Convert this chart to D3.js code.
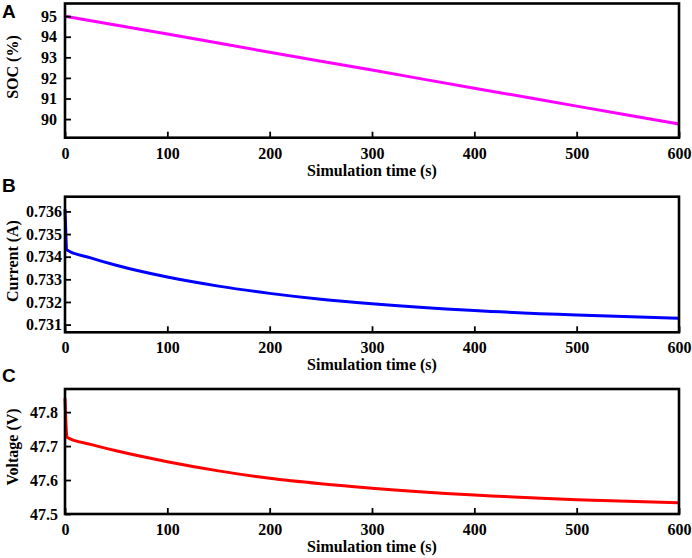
<!DOCTYPE html>
<html>
<head>
<meta charset="utf-8">
<script src="https://cdn.jsdelivr.net/npm/d3@7"></script>
<style>
  body { margin: 0; background: #fff; }
  svg { display: block; }
  .tick text { font-family: "Liberation Serif", "Times New Roman", serif; font-weight: bold; font-size: 16px; fill: #000; }
  .ttl { font-family: "Liberation Serif", "Times New Roman", serif; font-weight: bold; font-size: 16px; fill: #000; }
  .lbl { font-family: "Liberation Sans", Arial, sans-serif; font-weight: bold; font-size: 19px; fill: #000; }
</style>
</head>
<body>
<svg width="692" height="558"></svg>
<script>
// data
var xTicks = [0, 100, 200, 300, 400, 500, 600];

var socTime = [0, 100, 200, 300, 400, 500, 600];
var socVal  = [95, 94.13, 93.25, 92.38, 91.5, 90.63, 89.76];
var socTicks = [90, 91, 92, 93, 94, 95];

var curTime = [0, 2, 25, 50, 100, 150, 200, 250, 300, 400, 500, 600];
var curVal  = [0.7361, 0.7343, 0.73395, 0.73362, 0.73310, 0.73270, 0.73238, 0.73212, 0.73192, 0.73162, 0.73142, 0.73128];
var curTicks = [0.731, 0.732, 0.733, 0.734, 0.735, 0.736];

var volTime = [0, 2, 25, 50, 100, 150, 200, 250, 300, 400, 500, 600];
var volVal  = [47.841, 47.726, 47.705, 47.686, 47.654, 47.627, 47.605, 47.589, 47.576, 47.556, 47.542, 47.533];
var volTicks = [47.5, 47.6, 47.7, 47.8];

var svg = d3.select("svg");

var x = d3.scaleLinear().domain([0, 600]).range([65, 679]);

var panels = [
  { letter: "A", ly: 18, top: 3.5, bottom: 137.7, dom: [89.095, 95.615], t: socTime, v: socVal,
    ticks: socTicks, fmt: d3.format("d"), pad: 8, color: "#ff00ff", ytitle: "SOC (%)", tcy: 67 },
  { letter: "B", ly: 192, top: 196.7, bottom: 332.3, dom: [0.73066, 0.73665], t: curTime, v: curVal,
    ticks: curTicks, fmt: d3.format(".3f"), pad: 3, color: "#0000ff", ytitle: "Current (A)", tcy: 261 },
  { letter: "C", ly: 382, top: 389, bottom: 514, dom: [47.5, 47.868], t: volTime, v: volVal,
    ticks: volTicks, fmt: d3.format(".1f"), pad: 7, color: "#ff0000", ytitle: "Voltage (V)", tcy: 447 }
];

panels.forEach(function(p) {
  var y = d3.scaleLinear().domain(p.dom).range([p.bottom, p.top]);
  var g = svg.append("g");

  var pts = p.t.map(function(d, i) { return [d, p.v[i]]; });
  var line = d3.line()
    .x(function(d) { return x(d[0]); })
    .y(function(d) { return y(d[1]); })
    .curve(d3.curveMonotoneX);

  g.append("path")
    .datum(pts)
    .attr("d", line)
    .attr("fill", "none")
    .attr("stroke", p.color)
    .attr("stroke-width", 3);

  // inward ticks
  var xa = g.append("g")
    .attr("transform", "translate(0," + p.bottom + ")")
    .call(d3.axisBottom(x).tickValues(xTicks).tickSize(-6).tickPadding(9.5).tickSizeOuter(0));
  var ya = g.append("g")
    .attr("transform", "translate(" + x(0) + ",0)")
    .call(d3.axisLeft(y).tickValues(p.ticks).tickFormat(p.fmt).tickSize(-6).tickPadding(p.pad).tickSizeOuter(0));
  [xa, ya].forEach(function(a) {
    a.select(".domain").remove();
    a.selectAll(".tick line").attr("stroke", "#000").attr("stroke-width", 1.8);
  });

  g.append("rect")
    .attr("x", x(0)).attr("y", p.top)
    .attr("width", x(600) - x(0)).attr("height", p.bottom - p.top)
    .attr("fill", "none").attr("stroke", "#000").attr("stroke-width", 2.6);

  g.append("text").attr("class", "ttl")
    .attr("x", (x(0) + x(600)) / 2).attr("y", p.bottom + 38)
    .attr("text-anchor", "middle")
    .text("Simulation time (s)");

  g.append("text").attr("class", "ttl")
    .attr("transform", "translate(18," + p.tcy + ") rotate(-90)")
    .attr("text-anchor", "middle")
    .text(p.ytitle);

  g.append("text").attr("class", "lbl")
    .attr("x", 2).attr("y", p.ly)
    .text(p.letter);
});
</script>
</body>
</html>
